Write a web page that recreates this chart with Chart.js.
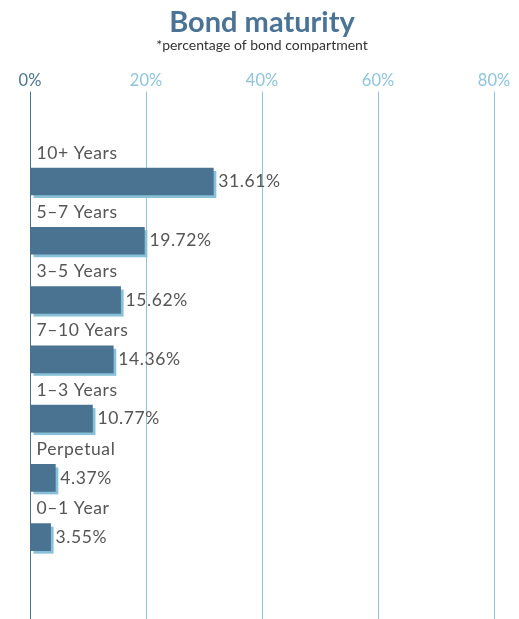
<!DOCTYPE html>
<html>
<head>
<meta charset="utf-8">
<script src="https://cdn.jsdelivr.net/npm/chart.js@4.4.1/dist/chart.umd.min.js"></script>
<style>
  html, body { margin: 0; padding: 0; background: #ffffff; }
  #wrap { width: 519px; height: 619px; position: relative; }
</style>
</head>
<body>
<div id="wrap"><canvas id="c"></canvas></div>
<script>
const categories = ['10+ Years', '5–7 Years', '3–5 Years', '7–10 Years', '1–3 Years', 'Perpetual', '0–1 Year'];
const shares = [31.61, 19.72, 15.62, 14.36, 10.77, 4.37, 3.55];
const xTicks = [0, 20, 40, 60, 80];

const DARK = '#4a7391';
const LIGHT = '#88c0d8';
const TEXT = '#555555';
const FONT = 'Lato, "Open Sans", sans-serif';

const barDecor = {
  id: 'barDecor',
  beforeDatasetsDraw(chart) {
    const ctx = chart.ctx;
    const meta = chart.getDatasetMeta(0);
    ctx.save();
    ctx.fillStyle = LIGHT;
    meta.data.forEach(bar => {
      const h = bar.height;
      const top = bar.y - h / 2;
      ctx.fillRect(bar.base + 3, top + 3, bar.x - bar.base, h);
    });
    ctx.restore();
  },
  afterDatasetsDraw(chart) {
    const ctx = chart.ctx;
    const meta = chart.getDatasetMeta(0);
    ctx.save();
    ctx.fillStyle = TEXT;
    ctx.font = '17.5px ' + FONT;
    try { ctx.letterSpacing = '0.6px'; } catch (e) {}
    ctx.textBaseline = 'middle';
    ctx.textAlign = 'left';
    meta.data.forEach((bar, i) => {
      const h = bar.height;
      ctx.fillText(shares[i].toFixed(2) + '%', bar.x + 5, bar.y);
      ctx.fillText(categories[i], bar.base + 6, bar.y - h / 2 - 15);
    });
    ctx.restore();
  }
};

new Chart(document.getElementById('c'), {
  type: 'bar',
  data: {
    datasets: [{
      data: shares.map((v, i) => ({ x: v, y: i })),
      backgroundColor: DARK,
      borderWidth: 0,
      barThickness: 27
    }]
  },
  options: {
    indexAxis: 'y',
    responsive: true,
    maintainAspectRatio: false,
    animation: false,
    layout: { padding: { left: 30, right: 25, top: 8, bottom: 0 } },
    plugins: {
      legend: { display: false },
      tooltip: { enabled: false },
      title: {
        display: true,
        text: 'Bond maturity',
        color: '#4a7395',
        font: { family: FONT, size: 29, weight: 'bold', lineHeight: 1 },
        padding: { top: 0, bottom: 0 }
      },
      subtitle: {
        display: true,
        text: '*percentage of bond compartment',
        color: '#333333',
        font: { family: FONT, size: 14 },
        padding: { top: 0, bottom: 16 }
      }
    },
    scales: {
      x: {
        position: 'top',
        min: 0,
        max: 80,
        afterBuildTicks(scale) { scale.ticks = xTicks.map(v => ({ value: v })); },
        border: { display: false },
        grid: {
          color: c => (c.tick && c.tick.value === 0) ? DARK : '#8ec4dc',
          lineWidth: 1,
          tickLength: 13,
          drawTicks: true
        },
        ticks: {
          color: c => (c.tick && c.tick.value === 0) ? DARK : '#8ec4dc',
          font: { family: FONT, size: 16.5 },
          padding: 1,
          callback: v => v + '%'
        }
      },
      y: {
        type: 'linear',
        reverse: true,
        offset: false,
        min: -1.297,
        max: 7.381,
        display: false,
        grid: { display: false }
      }
    }
  },
  plugins: [barDecor]
});
</script>
</body>
</html>
